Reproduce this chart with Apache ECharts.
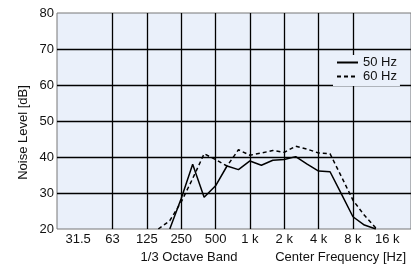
<!DOCTYPE html>
<html><head><meta charset="utf-8">
<script src="https://cdn.jsdelivr.net/npm/echarts@6/dist/echarts.min.js"></script>
<style>html,body{margin:0;padding:0;background:#fff}#c{width:411px;height:267px}</style>
</head><body><div id="c"></div>
<script>
// 1/3-octave band centre labels (band index = position on the x axis)
const bandLabels = ['31.5','40','50','63','80','100','125','160','200','250','315','400','500','630','800','1 k','1.25 k','1.6 k','2 k','2.5 k','3.15 k','4 k','5 k','6.3 k','8 k','10 k','12.5 k','16 k'];
const tickLabels = ['31.5','63','125','250','500','1 k','2 k','4 k','8 k','16 k'];
// 50 Hz series: bands from 200 Hz to 12.5 kHz
const start50 = '200';
const values50 = [20, 28.5, 38, 28.8, 32, 37.5, 36.5, 38.9, 37.7, 39.1, 39.3, 40.1, 38, 36.1, 35.9, 29.7, 23.4, 21.1, 20];
// 60 Hz series: bands from 160 Hz to 12.5 kHz
const start60 = '160';
const values60 = [20, 22.3, 27.5, 34, 40.9, 39.3, 37.5, 42, 40.5, 41.1, 41.8, 41.3, 43, 42.2, 41.1, 40.9, 34.5, 28, 23.8, 20.3];
const seriesNames = ['50 Hz', '60 Hz'];
const yTicks = [20, 30, 40, 50, 60, 70, 80];

const tickPos = tickLabels.map(l => bandLabels.indexOf(l));
function toPairs(startLabel, vals) {
  const s = bandLabels.indexOf(startLabel);
  return vals.map((v, i) => [s + i, v]);
}
const FONT = 'Liberation Sans';
const chart = echarts.init(document.getElementById('c'), null, {renderer: 'canvas'});
chart.setOption({
  animation: false,
  textStyle: {fontFamily: FONT},
  grid: {left: 57, right: -1, top: 13, bottom: 38, show: true, backgroundColor: '#eaf0fa', borderColor: '#777', borderWidth: 1},
  xAxis: {
    type: 'value', min: -1.85, max: 29.07,
    axisLine: {show: false},
    axisTick: {show: false, customValues: tickPos},
    axisLabel: {customValues: tickPos, formatter: v => bandLabels[Math.round(v)], fontSize: 13, color: '#111', margin: 4, fontFamily: FONT},
    splitLine: {show: true, showMinLine: false, showMaxLine: false, lineStyle: {color: '#000', width: 1.3}}
  },
  yAxis: {
    type: 'value', min: yTicks[0], max: yTicks[yTicks.length - 1], interval: 10,
    axisLine: {show: false}, axisTick: {show: false},
    axisLabel: {fontSize: 13, color: '#111', margin: 3, fontFamily: FONT},
    splitLine: {show: true, showMinLine: false, showMaxLine: false, lineStyle: {color: '#000', width: 1.3}}
  },
  legend: {
    data: seriesNames, orient: 'vertical', left: 333, top: 55,
    itemWidth: 21, itemHeight: 13, itemGap: 1, padding: [1, 3, 3, 3],
    backgroundColor: '#eaf0fa',
    itemStyle: {opacity: 0},
    textStyle: {fontSize: 13, color: '#111', fontFamily: FONT}
  },
  graphic: [
    {type: 'text', x: 23, y: 132.5, rotation: Math.PI / 2, style: {text: 'Noise Level [dB]', font: '13px "Liberation Sans"', fill: '#111', textAlign: 'center', textVerticalAlign: 'middle'}},
    {type: 'text', x: 189, y: 257.5, style: {text: '1/3 Octave Band', font: '13px "Liberation Sans"', fill: '#111', textAlign: 'center', textVerticalAlign: 'middle'}},
    {type: 'text', x: 406, y: 257.5, style: {text: 'Center Frequency [Hz]', font: '13px "Liberation Sans"', fill: '#111', textAlign: 'right', textVerticalAlign: 'middle'}}
  ],
  series: [
    {name: seriesNames[0], type: 'line', data: toPairs(start50, values50), symbol: 'none', color: '#000', lineStyle: {color: '#000', width: 1.5, type: 'solid'}},
    {name: seriesNames[1], type: 'line', data: toPairs(start60, values60), symbol: 'none', color: '#000', lineStyle: {color: '#000', width: 1.5, type: [4, 3]}}
  ]
});
</script>
</body></html>
